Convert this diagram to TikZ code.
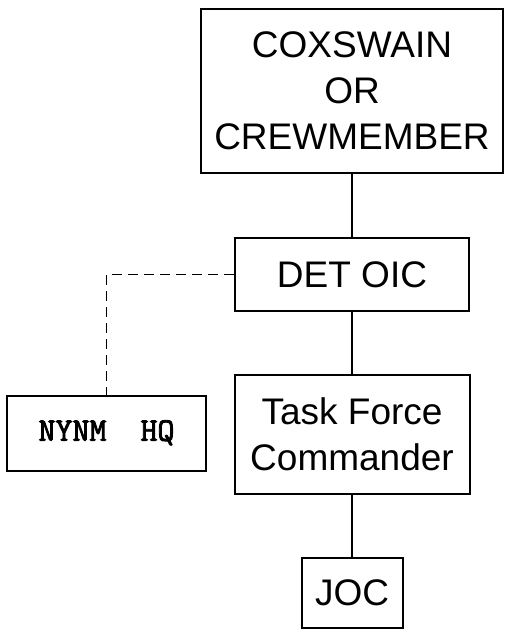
\documentclass[tikz,border=0pt]{standalone}
\usepackage{fontspec}
\setmainfont{Liberation Sans}
\newfontfamily\hqfont[FakeBold=2.5]{Latin Modern Mono}
\begin{document}
\begin{tikzpicture}
[x=1pt,y=-1pt,
  boxdecorate/.style={shape=rectangle,draw,line width=2pt,inner sep=0pt,align=center,
    font=\fontsize{37}{46}\selectfont},%
  hqdecorate/.style={shape=rectangle,draw,line width=1.6pt,inner sep=0pt,
    font=\hqfont\fontsize{33}{36}\selectfont},%
  linedecorate/.style={-,line width=2pt},%
  dashdecorate/.style={-,line width=1.4pt,dash pattern=on 10pt off 6pt}]
\useasboundingbox (0,0) rectangle (504,629);
%% nodes or vertices
\foreach \nodename/\x/\y/\w/\h/\txt in {coxswain/352/91/302/164/COXSWAIN\\OR\\CREWMEMBER,
  detoic/352/274.5/234/73/DET OIC,
  taskforce/352/434.5/235/119/Task Force\\Commander,
  joc/352/593/101/70/JOC} {
  \node (\nodename) at (\x,\y) [boxdecorate,minimum width=\w,minimum height=\h] {\txt};
}
\node (nynmhq) at (106.5,433.5) [hqdecorate,minimum width=199,minimum height=75]
  {\raisebox{6pt}{NYNM\ \ HQ}};
%% edges or lines
\path
\foreach \startnode/\endnode in {coxswain/detoic, detoic/taskforce,
  taskforce/joc} {
  (\startnode) edge[linedecorate] (\endnode)
};
\draw[dashdecorate] (detoic.west) -| (nynmhq.north);
\end{tikzpicture}
\end{document}
